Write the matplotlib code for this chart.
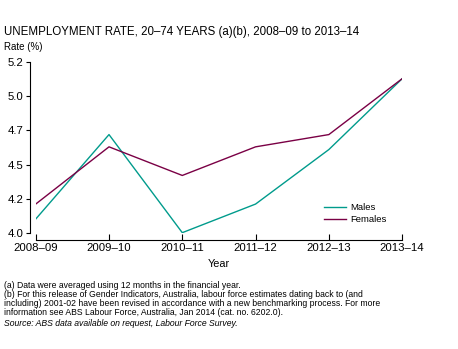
import matplotlib.pyplot as plt

years = ["2008–09", "2009–10", "2010–11", "2011–12", "2012–13", "2013–14"]
males = [4.10, 4.72, 4.00, 4.21, 4.61, 5.13]
females = [4.21, 4.63, 4.42, 4.63, 4.72, 5.13]
y_ticks = [4.0, 4.25, 4.5, 4.75, 5.0, 5.25]
y_tick_labels = ["4.0", "4.2", "4.5", "4.7", "5.0", "5.2"]

plt.rcParams['font.family'] = ['Liberation Sans', 'DejaVu Sans']

fig = plt.figure(figsize=(4.58, 3.49), dpi=100)
ax = fig.add_axes([0.078, 0.3333, 0.800, 0.488])

x = list(range(len(years)))
ax.plot(x, males, color="#009b8c", lw=1.0, label="Males")
ax.plot(x, females, color="#7a0045", lw=1.0, label="Females")

ax.set_xlim(0, len(years) - 1)
ax.set_ylim(4.0, 5.25)
ax.set_xticks(x)
ax.set_xticklabels(years)
ax.set_yticks(y_ticks)
ax.set_yticklabels(y_tick_labels)
ax.tick_params(axis="y", direction="out", length=3, width=0.8, pad=2, labelsize=8.2)
ax.tick_params(axis="x", direction="in", length=4, width=0.8, pad=2.5, labelsize=8.2)

for s in ["top", "right"]:
    ax.spines[s].set_visible(False)
ax.spines["left"].set_position(("outward", 4))
ax.spines["bottom"].set_position(("outward", 5))
ax.spines["left"].set_linewidth(0.8)
ax.spines["bottom"].set_linewidth(0.8)

ax.set_xlabel("Year", fontsize=7.8, labelpad=4)

ax.legend(loc="lower right", bbox_to_anchor=(0.98, 0.0), frameon=False,
          fontsize=6.8, handlelength=2.3, handletextpad=0.4, labelspacing=0.3)

fig.text(0.009, 0.908, "UNEMPLOYMENT RATE, 20–74 YEARS (a)(b), 2008–09 to 2013–14",
         fontsize=8.3, va="center")
fig.text(0.009, 0.865, "Rate (%)", fontsize=7, va="center")

notes = [
    "(a) Data were averaged using 12 months in the financial year.",
    "(b) For this release of Gender Indicators, Australia, labour force estimates dating back to (and",
    "including) 2001-02 have been revised in accordance with a new benchmarking process. For more",
    "information see ABS Labour Force, Australia, Jan 2014 (cat. no. 6202.0).",
]
for i, line in enumerate(notes):
    fig.text(0.009, (349 - 285 - i * 9.3) / 349, line, fontsize=6.2, va="center")
fig.text(0.009, (349 - 323.3) / 349, "Source: ABS data available on request, Labour Force Survey.",
         fontsize=6.2, style="italic", va="center")

fig.savefig("out.png", dpi=100)
